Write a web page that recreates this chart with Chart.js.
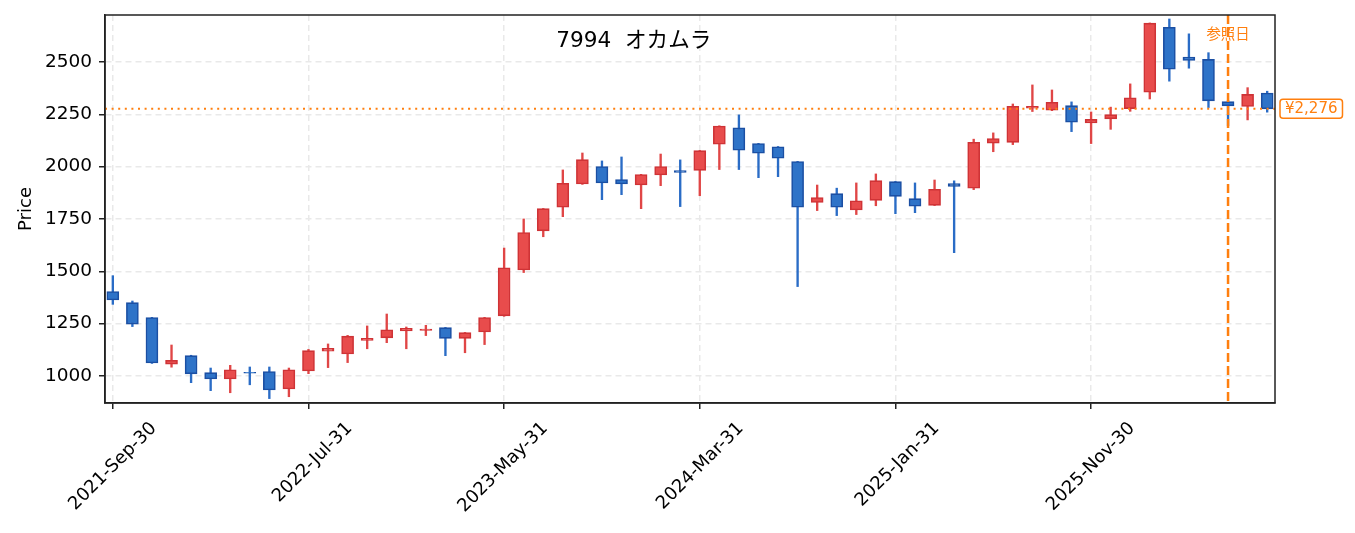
<!DOCTYPE html>
<html><head><meta charset="utf-8">
<script src="https://cdn.jsdelivr.net/npm/chart.js@4"></script>
<style>html,body{margin:0;padding:0;background:#fff;overflow:hidden}</style>
</head><body>
<canvas id="c" width="1355" height="533"></canvas>
<script>
const dates = [
 '2021-Sep-30','2021-Oct-31','2021-Nov-30','2021-Dec-31','2022-Jan-31','2022-Feb-28','2022-Mar-31','2022-Apr-30','2022-May-31','2022-Jun-30',
 '2022-Jul-31','2022-Aug-31','2022-Sep-30','2022-Oct-31','2022-Nov-30','2022-Dec-31','2023-Jan-31','2023-Feb-28','2023-Mar-31','2023-Apr-30',
 '2023-May-31','2023-Jun-30','2023-Jul-31','2023-Aug-31','2023-Sep-30','2023-Oct-31','2023-Nov-30','2023-Dec-31','2024-Jan-31','2024-Feb-29',
 '2024-Mar-31','2024-Apr-30','2024-May-31','2024-Jun-30','2024-Jul-31','2024-Aug-31','2024-Sep-30','2024-Oct-31','2024-Nov-30','2024-Dec-31',
 '2025-Jan-31','2025-Feb-28','2025-Mar-31','2025-Apr-30','2025-May-31','2025-Jun-30','2025-Jul-31','2025-Aug-31','2025-Sep-30','2025-Oct-31',
 '2025-Nov-30','2025-Dec-31','2026-Jan-31','2026-Feb-28','2026-Mar-31','2026-Apr-30','2026-May-31','2026-Jun-30','2026-Jul-31','2026-Aug-31'
];
const openP  = [1403,1350,1279,1057,1097,1016,986,1018,1021,938, 1024,1118,1105,1170,1182,1215,1218,1231,1180,1210,
                1287,1506,1693,1806,1917,2000,1938,1912,1960,1981, 1982,2107,2185,2110,2095,2024,1829,1871,1793,1839,
                1928,1847,1815,1919,1897,2112,2116,2279,2269,2291, 2209,2228,2277,2355,2665,2523,2512,2310,2287,2351];
const highP  = [1479,1358,1280,1148,1099,1038,1051,1043,1043,1038, 1127,1153,1194,1239,1296,1234,1242,1232,1208,1280,
                1611,1750,1800,1984,2065,2027,2046,1963,2060,2032, 2077,2195,2247,2111,2096,2025,1912,1897,1922,1965,
                1929,1922,1936,1932,2131,2161,2299,2390,2366,2309, 2261,2284,2395,2686,2705,2634,2544,2316,2377,2360];
const lowP   = [1342,1236,1060,1042,968,930,920,958,892,901, 1011,1040,1064,1130,1159,1130,1193,1097,1111,1150,
                1285,1494,1665,1761,1915,1842,1866,1799,1909,1809, 1861,1986,1986,1947,1952,1427,1790,1766,1771,1813,
                1775,1780,1814,1589,1890,2071,2105,2263,2267,2167, 2110,2178,2264,2323,2408,2470,2282,2195,2223,2260];
const closeP = [1363,1248,1062,1075,1010,986,1030,1014,933,1030, 1121,1132,1190,1180,1221,1228,1224,1180,1207,1279,
                1517,1685,1799,1920,2033,1922,1917,1962,2000,1972, 2076,2194,2078,2064,2040,1806,1852,1806,1837,1933,
                1858,1811,1892,1905,2116,2134,2288,2288,2307,2212, 2226,2248,2329,2685,2465,2507,2314,2290,2345,2276];
const xTickIdx = [0,10,20,30,40,50];
const yTicks = [1000,1250,1500,1750,2000,2250,2500];
const refIndex = 57;
const refPrice = 2276;
const titleText = '7994  オカムラ';
const refLabel = '参照日';
const priceLabel = '¥2,276';

const F = "'DejaVu Sans','Noto Sans CJK JP',sans-serif";
const upFill='#e84c4c', upEdge='#cf3336', dnFill='#2e73c8', dnEdge='#1b4fa3';
const upWick='#e04646', dnWick='#2a6cc6';
const ORANGE='#ff7f0e';
const isUp = i => closeP[i] >= openP[i];

const bodies = dates.map((d,i)=>({x:i, y:[openP[i], closeP[i]]}));
const wicks  = dates.map((d,i)=>({x:i, y:[lowP[i], highP[i]]}));

const decor = {
  id:'decor',
  afterDatasetsDraw(chart){
    const ctx=chart.ctx, a=chart.chartArea, xs=chart.scales.x, ys=chart.scales.y;
    ctx.save();
    ctx.beginPath(); ctx.rect(a.left,a.top,a.right-a.left,a.bottom-a.top); ctx.clip();
    const py = ys.getPixelForValue(refPrice);
    ctx.strokeStyle=ORANGE; ctx.lineWidth=2; ctx.setLineDash([2,4.6]);
    ctx.beginPath(); ctx.moveTo(a.left,py); ctx.lineTo(a.right,py); ctx.stroke();
    const px = xs.getPixelForValue(refIndex);
    ctx.fillStyle=ORANGE; ctx.font="14.4px "+F; ctx.textAlign='center'; ctx.textBaseline='middle';
    ctx.fillText(refLabel, px, a.top+20);
    ctx.lineWidth=2.5; ctx.setLineDash([9,4]);
    ctx.beginPath(); ctx.moveTo(px,a.top); ctx.lineTo(px,a.bottom); ctx.stroke();
    ctx.restore();
    // title
    ctx.save();
    ctx.fillStyle='#000'; ctx.font="21.6px "+F; ctx.textAlign='center'; ctx.textBaseline='middle';
    ctx.fillText(titleText, a.left+0.452*(a.right-a.left), a.top+26);
    ctx.restore();
    // price box
    ctx.save();
    ctx.font="15px "+F; ctx.textBaseline='middle'; ctx.textAlign='left';
    const tw = ctx.measureText(priceLabel).width;
    const bx = a.right+5, bw = tw+10, bh=19, by=py-bh/2;
    ctx.fillStyle='#fff'; ctx.strokeStyle=ORANGE; ctx.lineWidth=1.5;
    ctx.beginPath(); ctx.roundRect(bx,by,bw,bh,3); ctx.fill(); ctx.stroke();
    ctx.fillStyle=ORANGE; ctx.fillText(priceLabel, bx+5, py+0.5);
    ctx.restore();
  },
  afterDraw(chart){
    const ctx=chart.ctx, a=chart.chartArea;
    ctx.save(); ctx.strokeStyle='#222'; ctx.lineWidth=1.5;
    ctx.strokeRect(a.left,a.top,a.right-a.left,a.bottom-a.top);
    ctx.restore();
  }
};

new Chart(document.getElementById('c'), {
  type:'bar',
  data:{datasets:[
    {label:'body', data:bodies, grouped:false, barThickness:12, borderWidth:1.6, borderSkipped:false,
     backgroundColor:c=>isUp(c.dataIndex)?upFill:dnFill, borderColor:c=>isUp(c.dataIndex)?upEdge:dnEdge},
    {label:'wick', data:wicks, grouped:false, barThickness:1.7, borderWidth:0,
     backgroundColor:c=>isUp(c.dataIndex)?upWick:dnWick}
  ]},
  options:{
    responsive:false, animation:false, devicePixelRatio:1,
    layout:{padding:{left:0,right:80,top:15,bottom:0}},
    plugins:{legend:{display:false}, tooltip:{enabled:false}},
    scales:{
      x:{type:'linear', min:-0.4, max:59.4, offset:false,
        afterBuildTicks:s=>{s.ticks = xTickIdx.map(v=>({value:v}));},
        afterFit:s=>{s.height=130; s.paddingLeft=0; s.paddingRight=0;},
        ticks:{callback:v=>dates[v], maxRotation:45, minRotation:45, autoSkip:false,
               font:{size:18,family:F}, color:'#000', padding:9, labelOffset:41},
        grid:{color:'#e9e9e9', lineWidth:1.5, tickColor:'#222', tickLength:6, tickWidth:1.5, offset:false},
        border:{color:'#222', width:1.5, dash:[6,4]}
      },
      y:{min:871, max:2724,
        afterBuildTicks:s=>{s.ticks = yTicks.map(v=>({value:v}));},
        afterFit:s=>{s.width=105; s.paddingTop=0; s.paddingBottom=0;},
        ticks:{callback:v=>String(v), font:{size:18.5,family:F}, color:'#000', padding:7},
        grid:{color:'#e9e9e9', lineWidth:1.5, tickColor:'#222', tickLength:6, tickWidth:1.5},
        border:{color:'#222', width:1.5, dash:[6,4]},
        title:{display:true, text:'Price', font:{size:18,family:F}, color:'#000', padding:{top:16,bottom:0}}
      }
    }
  },
  plugins:[decor]
});
</script>
</body></html>
